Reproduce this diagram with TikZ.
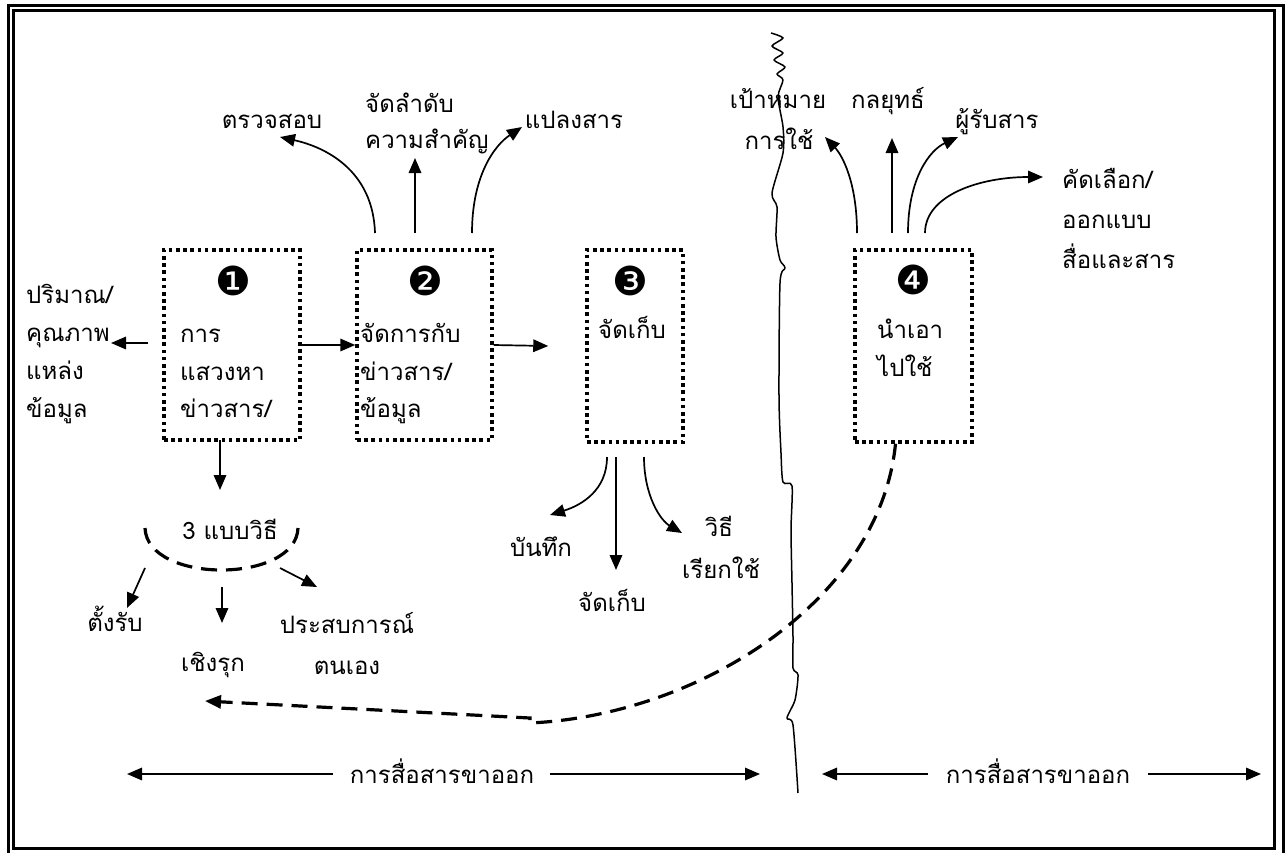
\documentclass[tikz,border=0pt]{standalone}
\usepackage{fontspec}
\newfontfamily\thaifont[Script=Thai]{Loma}
\newfontfamily\dingfont{DejaVu Sans}
\usetikzlibrary{arrows.meta}

\begin{document}
\begin{tikzpicture}[x=1pt,y=-1pt,
  lbl/.style={font=\thaifont\fontsize{24}{28}\selectfont, inner sep=0pt},
  box/.style={draw, line width=3.5pt, dash pattern=on 3.6pt off 3.6pt, inner sep=0pt},
  num/.style={font=\dingfont\fontsize{40}{40}\selectfont, inner sep=0pt},
  arr/.style={line width=1.7pt, -{Triangle[length=15pt,width=12.5pt]}},
  dsh/.style={line width=3.2pt, dash pattern=on 16pt off 9pt}]

\useasboundingbox (0,0) rectangle (1285,852);

% double page frame
\draw[line width=3pt] (8.5,5.5) rectangle (1283.5,854);
\draw[line width=2.2pt] (13.5,10.5) rectangle (1274.5,848.5);

% process boxes
\node[box, minimum width=136pt, minimum height=190pt] (b1) at (232,345) {};
\node[box, minimum width=135pt, minimum height=190pt] (b2) at (424.5,345) {};
\node[box, minimum width=96pt,  minimum height=192pt] (b3) at (635,346) {};
\node[box, minimum width=117pt, minimum height=192pt] (b4) at (913.5,346) {};

\node[num] (n1) at (233,281) {❶};
\node[num] (n2) at (425,281) {❷};
\node[num] (n3) at (630,281) {❸};
\node[num] (n4) at (913,280) {❹};

% box texts
\node[lbl, anchor=base west] (t1a) at (180,342) {การ};
\node[lbl, anchor=base west] (t1b) at (180,380) {แสวงหา};
\node[lbl, anchor=base west] (t1c) at (180,417) {ข่าวสาร/};
\node[lbl, anchor=base west] (t2a) at (360,342) {จัดการกับ};
\node[lbl, anchor=base west] (t2b) at (360,380) {ข่าวสาร/};
\node[lbl, anchor=base west] (t2c) at (360,417) {ข้อมูล};
\node[lbl, anchor=base] (t3a) at (632,338) {จัดเก็บ};
\node[lbl, anchor=base west] (t4a) at (877,338) {นำเอา};
\node[lbl, anchor=base west] (t4b) at (877,376) {ไปใช้};

% left column
\node[lbl, anchor=base west] (q1) at (26,303) {ปริมาณ/};
\node[lbl, anchor=base west] (q2) at (26,341) {คุณภาพ};
\node[lbl, anchor=base west] (q3) at (26,379) {แหล่ง};
\node[lbl, anchor=base west] (q4) at (26,417) {ข้อมูล};

% labels above box 2
\node[lbl, anchor=base] (c1) at (272,128) {ตรวจสอบ};
\node[lbl, anchor=base west] (c2a) at (365,112) {จัดลำดับ};
\node[lbl, anchor=base west] (c2b) at (365,148) {ความสำคัญ};
\node[lbl, anchor=base] (c3) at (574,128) {แปลงสาร};

% labels above box 4
\node[lbl, anchor=base] (u1a) at (778,108) {เป้าหมาย};
\node[lbl, anchor=base] (u1b) at (779,149) {การใช้};
\node[lbl, anchor=base] (u2) at (888,108) {กลยุทธ์};
\node[lbl, anchor=base] (u3) at (997,128) {ผู้รับสาร};
\node[lbl, anchor=base west] (u4a) at (1062,188) {คัดเลือก/};
\node[lbl, anchor=base west] (u4b) at (1062,228) {ออกแบบ};
\node[lbl, anchor=base west] (u4c) at (1062,268) {สื่อและสาร};

% three approaches
\node[lbl, anchor=base] (m0) at (230,539) {3 แบบวิธี};
\node[lbl, anchor=base] (m1) at (115,631) {ตั้งรับ};
\node[lbl, anchor=base] (m2) at (213,671) {เชิงรุก};
\node[lbl, anchor=base] (m3a) at (347,633) {ประสบการณ์};
\node[lbl, anchor=base] (m3b) at (347,674) {ตนเอง};

% storage outputs
\node[lbl, anchor=base] (s1) at (541,556) {บันทึก};
\node[lbl, anchor=base] (s2) at (612,611) {จัดเก็บ};
\node[lbl, anchor=base] (s3a) at (719,536) {วิธี};
\node[lbl, anchor=base] (s3b) at (721,578) {เรียกใช้};

% bottom captions
\node[lbl, anchor=base] (f1) at (442,783) {การสื่อสารขาออก};
\node[lbl, anchor=base] (f2) at (1038,783) {การสื่อสารขาออก};

% connector end points
\coordinate (a1s) at (375,233); \coordinate (a1e) at (280,137);
\coordinate (a2s) at (415,233); \coordinate (a2e) at (415,158);
\coordinate (a3s) at (472,233); \coordinate (a3e) at (522,127);
\coordinate (d1s) at (857,233); \coordinate (d1e) at (825,137);
\coordinate (d2s) at (892,233); \coordinate (d2e) at (892,138);
\coordinate (d3s) at (908,233); \coordinate (d3e) at (958,137);
\coordinate (d4s) at (925,233); \coordinate (d4e) at (1043,177);
\coordinate (k1s) at (607,457); \coordinate (k1e) at (550,515);
\coordinate (k2s) at (616,457); \coordinate (k2e) at (616,570);
\coordinate (k3s) at (644,457); \coordinate (k3e) at (682,533);
\coordinate (l0s) at (148,343); \coordinate (l0e) at (111,343);
\coordinate (v0s) at (220,440); \coordinate (v0e) at (220,490);
\coordinate (g1s) at (145,568); \coordinate (g1e) at (127,608);
\coordinate (g2s) at (222,587); \coordinate (g2e) at (222,623);
\coordinate (g3s) at (280,568); \coordinate (g3e) at (317,587);
\coordinate (h1s) at (333,774); \coordinate (h1e) at (127,774);
\coordinate (h2s) at (550,774); \coordinate (h2e) at (760,774);
\coordinate (h3s) at (928,774); \coordinate (h3e) at (822,774);
\coordinate (h4s) at (1148,774); \coordinate (h4e) at (1261,774);
\coordinate (rk) at (530,723); \coordinate (rk2) at (530,718);
\coordinate (re) at (205,701);

% main flow
\draw[arr] (b1.east) -- (b2.west);
\draw[arr] (b2.east) -- ([xshift=-37pt]b3.west);
\draw[arr] (l0s) -- (l0e);
\draw[arr] (v0s) -- (v0e);

% box 2 outputs
\draw[arr] (a1s) .. controls (373,170) and (325,147) .. (a1e);
\draw[arr] (a2s) -- (a2e);
\draw[arr] (a3s) .. controls (472,175) and (495,145) .. (a3e);

% box 4 outputs
\draw[arr] (d1s) .. controls (857,182) and (842,155) .. (d1e);
\draw[arr] (d2s) -- (d2e);
\draw[arr] (d3s) .. controls (908,178) and (930,150) .. (d3e);
\draw[arr] (d4s) .. controls (925,195) and (980,177) .. (d4e);

% box 3 outputs
\draw[arr] (k1s) .. controls (607,490) and (582,505) .. (k1e);
\draw[arr] (k2s) -- (k2e);
\draw[arr] (k3s) .. controls (644,495) and (660,520) .. (k3e);

% dashed bowl under the three approaches
\draw[dsh] (145,528) .. controls (147,584) and (296,584) .. (298,528);
\draw[arr] (g1s) -- (g1e);
\draw[arr] (g2s) -- (g2e);
\draw[arr] (g3s) -- (g3e);

% feedback from box 4
\draw[dsh, -{Triangle[length=16pt,width=13pt]}] ([xshift=-18pt]b4.south) .. controls (880,600) and (700,715) .. (rk) -- (rk2) -- (re);

% bottom double arrows
\draw[arr] (h1s) -- (h1e);
\draw[arr] (h2s) -- (h2e);
\draw[arr] (h3s) -- (h3e);
\draw[arr] (h4s) -- (h4e);

% dividing line
\draw[line width=1.5pt, line join=round]
  plot[smooth, tension=0.45] coordinates {(771,33) (783,38) (772,46) (783,53) (774,60) (785,67) (777,74) (783,80)
    (778,97) (783,127) (783,153) (772,193) (777,207)
    (776,237) (780,260) (785,268) (780,283) (779,397) (781,453) (783,482) (792,486) (791,530)
    (792,583) (793,637) (793,668) (798,675) (795,700) (787,718) (793,725) (798,793)};

\end{tikzpicture}
\end{document}
